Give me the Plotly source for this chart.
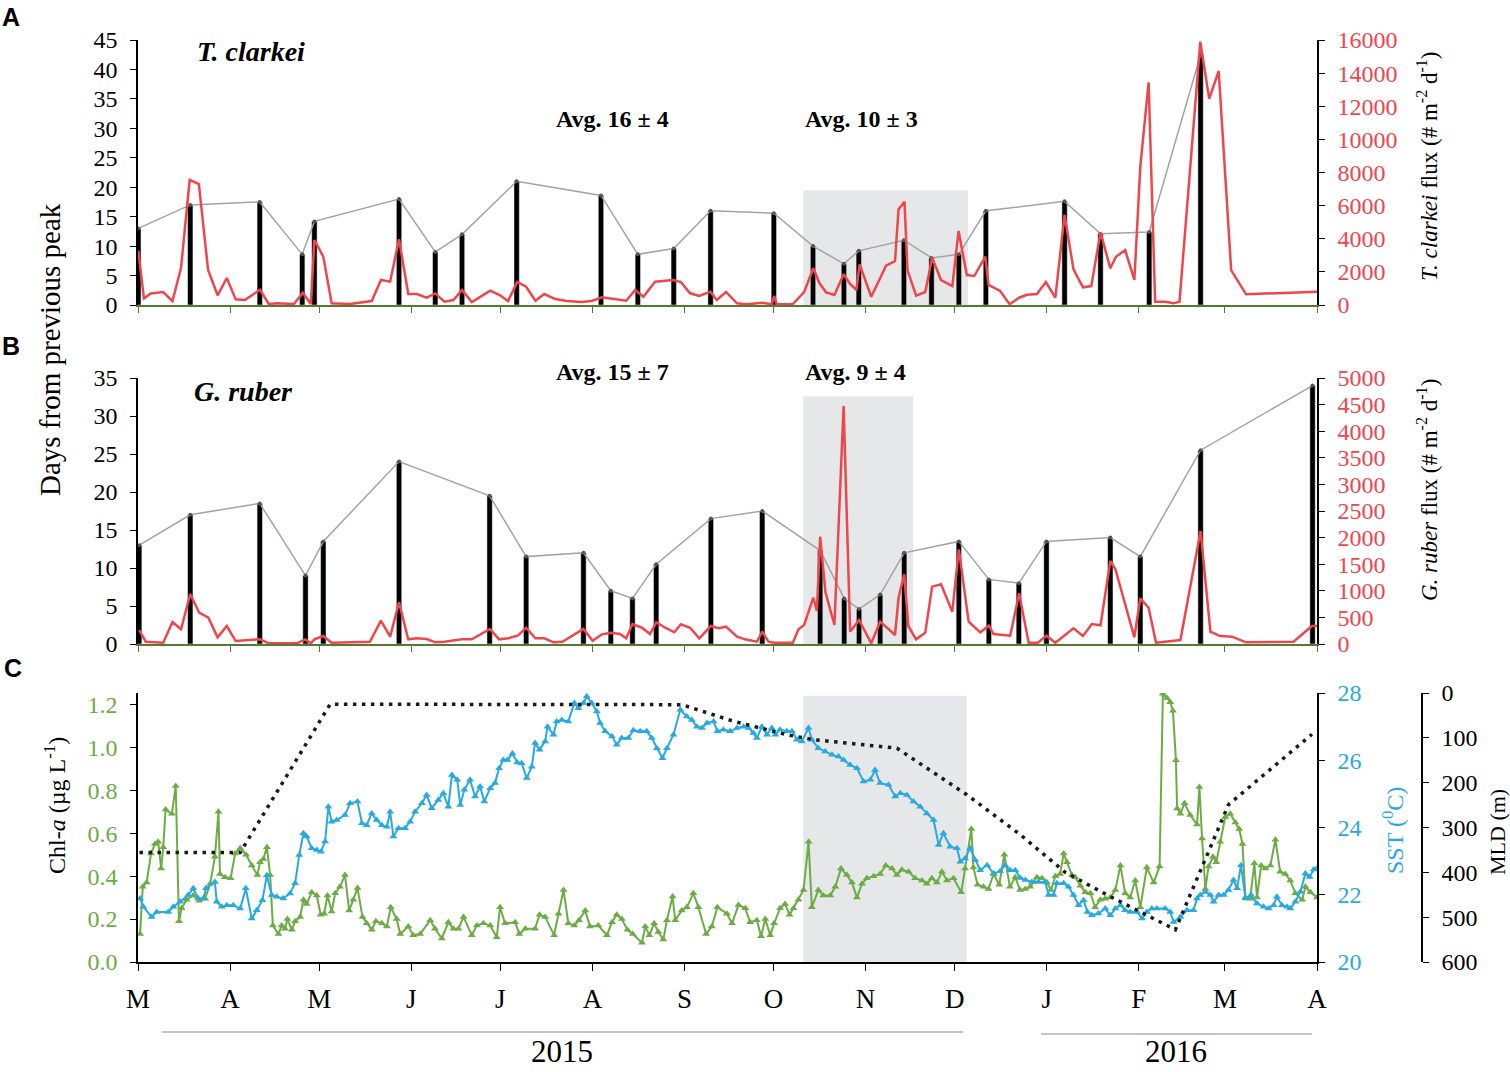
import numpy as np
import pandas as pd
import plotly.graph_objects as go

# ---- data (days counted from 1 March 2015) ----
START = pd.Timestamp("2015-03-01")
END = pd.Timestamp("2016-04-01")
MONTH_LETTERS = ["M", "A", "M", "J", "J", "A", "S", "O", "N", "D", "J", "F", "M", "A"]

# panel A: T. clarkei
TC_PEAK_DAY = [0.1, 17.6, 41.0, 55.3, 59.4, 87.9, 100.1, 109.1, 127.5, 155.9, 168.3, 180.4, 192.8,
               214.1, 227.3, 237.7, 242.7, 257.9, 267.2, 276.4, 285.5, 312.0, 324.1, 340.5, 357.8]
TC_GAP = [13, 17, 17.5, 8.6, 14.2, 18, 9, 12, 21, 18.6, 8.6, 9.6, 16,
          15.6, 10, 7, 9.2, 11, 8, 8.6, 16, 17.6, 12.1, 12.4, 42.5]
TC_FLUX_DAY = [0.1, 2.0, 4.3, 8.5, 11.6, 14.5, 17.4, 20.5, 23.6, 26.8,
               29.9, 32.9, 36.0, 41.1, 44.0, 46.9, 52.5, 55.5, 58.2, 59.4,
               62.4, 65.2, 71.4, 78.7, 81.8, 84.9, 87.9, 91.0, 93.9, 97.2,
               100.1, 103.2, 106.2, 109.1, 112.4, 118.6, 121.9, 124.6, 127.7, 130.7,
               133.8, 136.8, 140.5, 144.4, 149.4, 152.8, 156.2, 164.4, 167.4, 170.2,
               174.1, 180.3, 182.8, 185.9, 189.0, 192.7, 194.9, 198.0, 201.7, 205.0,
               210.1, 213.4, 214.2, 215.1, 220.5, 224.3, 227.4, 229.5, 231.7, 234.5,
               237.6, 239.8, 241.9, 243.0, 246.9, 249.3, 251.9, 254.9, 256.1, 258.1,
               259.1, 262.0, 265.1, 267.4, 270.4, 274.2, 276.3, 279.1, 281.6, 285.3,
               286.4, 290.3, 293.5, 296.7, 299.3, 302.7, 305.7, 308.9, 312.0, 315.0,
               318.2, 321.0, 324.1, 327.4, 329.3, 332.4, 335.5, 337.5, 340.3, 342.5,
               345.9, 348.7, 350.7, 357.7, 360.7, 363.9, 368.1, 373.1, 397.0]
TC_FLUX = [3280, 400, 700, 785, 240, 2250, 7550, 7300, 2110, 585,
           1630, 340, 300, 925, 60, 100, 60, 740, 60, 3925,
           2920, 100, 60, 240, 1510, 1410, 3970, 665, 665, 440,
           700, 200, 300, 905, 180, 865, 585, 240, 1390, 1105,
           260, 665, 360, 240, 180, 240, 465, 260, 905, 500,
           1410, 1510, 1390, 705, 545, 805, 300, 785, 100, 40,
           140, 40, 545, 40, 60, 785, 2215, 1310, 765, 605,
           1855, 1270, 905, 2455, 500, 1410, 2375, 2655, 5780, 6240,
           2110, 565, 785, 2855, 1510, 1145, 4470, 1810, 1750, 2915,
           1210, 850, 50, 440, 620, 665, 1390, 440, 5435, 2155,
           1070, 1145, 4390, 2215, 2915, 3320, 1510, 8350, 13445, 200,
           200, 100, 200, 15900, 12460, 14130, 2110, 645, 805]

# panel B: G. ruber
GR_PEAK_DAY = [0.4, 17.6, 41.0, 56.4, 62.4, 87.9, 118.4, 130.7, 150.0, 159.2, 166.5, 174.5, 192.9, 210.2,
               229.7, 237.8, 242.8, 249.9, 258.0, 276.4, 286.5, 296.6, 305.9, 327.4, 337.5, 357.8, 395.5]
GR_GAP = [13, 17, 18.5, 9, 13.5, 24, 19.5, 11.5, 12, 7, 6, 10.5, 16.5, 17.5,
          12.3, 6, 4.6, 6.5, 12, 13.5, 8.5, 8, 13.5, 14, 11.5, 25.5, 34]
GR_FLUX_DAY = [0.4, 2.6, 8.5, 11.6, 14.5, 17.6, 20.6, 23.7, 26.8, 29.9,
               32.9, 41.1, 44.0, 53.5, 56.3, 58.2, 59.4, 62.4, 65.2, 78.1,
               81.8, 84.9, 87.9, 91.0, 93.9, 97.2, 100.1, 103.2, 109.1, 112.4,
               118.5, 121.6, 124.7, 128.0, 130.7, 133.8, 136.8, 139.9, 142.9, 150.0,
               153.1, 156.2, 159.2, 162.3, 164.4, 166.5, 169.7, 172.4, 174.5, 177.5,
               180.6, 182.8, 185.9, 189.0, 192.9, 195.5, 198.0, 201.7, 204.4, 208.4,
               210.2, 212.3, 214.2, 220.5, 222.4, 224.3, 227.4, 228.6, 229.7, 231.5,
               234.5, 237.6, 239.8, 242.8, 246.9, 249.9, 254.9, 256.1, 258.0, 259.4,
               262.0, 265.1, 267.4, 270.4, 274.2, 276.4, 279.7, 283.6, 286.5, 288.1,
               293.7, 296.7, 299.9, 303.0, 305.9, 308.9, 315.0, 318.2, 321.2, 324.1,
               327.4, 329.1, 335.5, 337.5, 340.3, 342.8, 351.0, 357.8, 361.1, 364.4,
               368.4, 373.1, 389.1, 395.3, 397.0]
GR_FLUX = [263, 43, 25, 414, 276, 940, 588, 494, 126, 338,
           56, 88, 13, 13, 88, 13, 88, 150, 24, 43,
           438, 137, 784, 88, 107, 94, 32, 43, 88, 88,
           282, 88, 107, 160, 306, 107, 107, 32, 43, 282,
           62, 182, 213, 188, 107, 376, 306, 188, 408, 306,
           220, 370, 306, 107, 338, 295, 326, 137, 88, 43,
           232, 43, 24, 24, 276, 357, 870, 620, 2017, 972,
           357, 4474, 232, 451, 13, 420, 169, 871, 1310, 338,
           88, 213, 1078, 1122, 608, 1780, 420, 220, 345, 188,
           157, 953, 24, 24, 157, 24, 295, 150, 376, 351,
           1560, 1410, 126, 859, 682, 24, 75, 2124, 232, 150,
           137, 32, 43, 338, 338]

# panel C: chlorophyll-a, SST, mixed layer depth
CHL_DAY = [0.7, 1.6, 2.9, 4.4, 5.7, 6.8, 7.8, 8.5, 9.3, 11.4,
           12.7, 13.8, 14.7, 16.4, 18.6, 20.6, 22.6, 24.3, 25.9, 27.1,
           27.6, 29.3, 31.2, 32.7, 34.4, 36.4, 38.3, 40.2, 41.1, 42.2,
           43.4, 44.5, 45.4, 47.3, 48.4, 49.5, 50.3, 51.8, 52.9, 54.6,
           55.7, 56.8, 58.5, 60.2, 61.5, 62.7, 63.8, 65.2, 66.4, 68.0,
           69.7, 71.1, 72.5, 73.9, 75.6, 77.0, 78.7, 80.1, 82.1, 83.8,
           85.1, 87.1, 88.3, 91.0, 92.7, 95.0, 98.4, 100.0, 102.3, 104.5,
           106.2, 107.9, 109.6, 112.4, 114.1, 116.3, 118.6, 120.8, 121.9, 123.6,
           127.0, 128.4, 130.4, 133.7, 135.2, 137.1, 140.1, 141.6, 143.3, 144.9,
           146.9, 148.5, 150.6, 152.2, 155.0, 157.9, 159.6, 161.2, 162.9, 164.8,
           166.6, 169.7, 170.8, 172.2, 173.8, 175.2, 176.9, 178.1, 180.0, 180.9,
           183.1, 184.8, 187.0, 188.7, 191.3, 193.2, 195.1, 198.3, 200.0, 202.2,
           204.5, 206.1, 208.4, 209.8, 211.2, 212.9, 214.2, 216.2, 217.9, 219.4,
           220.7, 222.4, 224.1, 225.8, 226.9, 229.1, 230.8, 233.1, 234.8, 236.7,
           238.7, 240.4, 242.1, 243.8, 245.4, 247.7, 249.9, 251.8, 253.9, 255.5,
           257.2, 259.5, 261.7, 264.0, 265.6, 267.3, 269.0, 270.7, 272.4, 274.6,
           277.2, 278.5, 280.6, 281.3, 282.7, 284.7, 286.4, 288.1, 290.0, 291.7,
           293.6, 295.4, 297.0, 298.8, 300.4, 302.7, 304.4, 306.1, 307.4, 308.9,
           310.5, 311.7, 312.8, 314.5, 315.6, 317.3, 319.0, 320.7, 322.3, 324.0,
           325.7, 327.4, 329.1, 330.8, 332.4, 334.1, 335.8, 337.5, 339.7, 342.0,
           344.0, 345.1, 346.5, 347.6, 348.5, 349.5, 349.9, 351.0, 352.4, 354.3,
           356.6, 357.4, 358.3, 359.4, 360.5, 362.0, 363.1, 364.4, 366.1, 367.8,
           369.5, 370.8, 371.9, 372.9, 374.5, 375.9, 376.8, 378.2, 379.6, 381.3,
           383.0, 384.6, 386.3, 388.0, 389.7, 392.0, 393.1, 394.8, 397.0]
CHL = [0.13, 0.35, 0.37, 0.505, 0.55, 0.56, 0.435, 0.535, 0.71, 0.69,
       0.82, 0.19, 0.25, 0.29, 0.31, 0.285, 0.295, 0.365, 0.49, 0.70,
       0.41, 0.395, 0.39, 0.505, 0.53, 0.50, 0.45, 0.405, 0.465, 0.48,
       0.535, 0.405, 0.17, 0.13, 0.17, 0.155, 0.20, 0.15, 0.19, 0.21,
       0.29, 0.27, 0.325, 0.31, 0.22, 0.225, 0.31, 0.235, 0.32, 0.35,
       0.405, 0.24, 0.29, 0.345, 0.21, 0.18, 0.15, 0.19, 0.18, 0.165,
       0.255, 0.20, 0.13, 0.165, 0.125, 0.13, 0.195, 0.155, 0.11, 0.185,
       0.155, 0.155, 0.21, 0.125, 0.17, 0.18, 0.17, 0.115, 0.255, 0.18,
       0.185, 0.13, 0.155, 0.155, 0.22, 0.21, 0.125, 0.225, 0.335, 0.18,
       0.17, 0.195, 0.24, 0.165, 0.17, 0.125, 0.185, 0.22, 0.20, 0.15,
       0.13, 0.09, 0.165, 0.125, 0.18, 0.14, 0.105, 0.195, 0.305, 0.195,
       0.24, 0.255, 0.32, 0.255, 0.13, 0.165, 0.255, 0.225, 0.18, 0.265,
       0.25, 0.185, 0.195, 0.12, 0.20, 0.125, 0.18, 0.25, 0.27, 0.22,
       0.25, 0.29, 0.335, 0.56, 0.255, 0.335, 0.31, 0.31, 0.35, 0.435,
       0.405, 0.37, 0.30, 0.365, 0.39, 0.40, 0.41, 0.45, 0.435, 0.405,
       0.43, 0.42, 0.39, 0.38, 0.365, 0.39, 0.37, 0.42, 0.38, 0.39,
       0.325, 0.435, 0.62, 0.44, 0.36, 0.35, 0.34, 0.41, 0.36, 0.50,
       0.35, 0.395, 0.335, 0.34, 0.35, 0.395, 0.39, 0.37, 0.335, 0.40,
       0.41, 0.505, 0.465, 0.405, 0.395, 0.355, 0.325, 0.32, 0.255, 0.29,
       0.295, 0.30, 0.335, 0.45, 0.32, 0.30, 0.38, 0.255, 0.44, 0.37,
       0.445, 1.25, 1.23, 1.21, 1.17, 0.94, 0.715, 0.69, 0.74, 0.685,
       0.64, 0.815, 0.575, 0.34, 0.445, 0.49, 0.465, 0.56, 0.675, 0.69,
       0.65, 0.62, 0.55, 0.30, 0.295, 0.46, 0.30, 0.45, 0.435, 0.45,
       0.57, 0.42, 0.41, 0.38, 0.32, 0.29, 0.35, 0.325, 0.30]

SST_DAY = [0.7, 1.8, 4.6, 6.3, 10.2, 11.9, 14.2, 16.9, 18.6, 20.3,
           22.0, 22.9, 25.9, 26.5, 28.2, 29.9, 32.1, 34.4, 36.3, 38.3,
           40.0, 41.9, 43.4, 45.0, 46.7, 48.9, 51.2, 52.9, 54.3, 55.7,
           56.8, 58.5, 60.2, 61.6, 63.0, 64.1, 65.2, 66.9, 69.7, 71.4,
           73.9, 75.4, 77.0, 78.7, 80.4, 82.1, 83.8, 84.9, 86.0, 87.7,
           89.9, 91.6, 93.3, 95.6, 97.2, 98.9, 101.1, 102.8, 104.5, 105.7,
           107.5, 108.5, 109.9, 111.8, 113.5, 115.2, 116.6, 118.6, 120.2, 121.6,
           123.0, 124.4, 126.1, 127.7, 129.2, 130.9, 132.6, 133.7, 135.2, 137.1,
           137.9, 139.9, 141.0, 142.7, 144.9, 146.9, 148.3, 150.0, 151.1, 152.8,
           154.5, 155.6, 157.3, 159.6, 161.2, 162.9, 165.1, 166.8, 169.1, 171.3,
           173.0, 174.7, 176.6, 178.1, 180.3, 182.6, 184.8, 186.5, 188.2, 189.9,
           191.6, 193.8, 195.1, 197.1, 199.4, 201.7, 203.9, 205.6, 207.2, 208.4,
           210.1, 211.8, 213.4, 214.6, 216.2, 218.5, 220.2, 221.9, 223.5, 225.8,
           226.9, 229.1, 231.4, 233.7, 235.9, 237.6, 239.8, 242.1, 244.3, 246.6,
           248.2, 249.9, 252.7, 255.0, 256.7, 258.9, 261.1, 263.4, 265.6, 267.9,
           269.6, 271.2, 273.5, 275.8, 276.9, 278.5, 280.2, 281.9, 283.6, 285.9,
           288.1, 290.3, 292.0, 293.7, 295.4, 297.1, 298.8, 301.0, 303.2, 305.5,
           306.6, 308.3, 309.4, 311.7, 313.3, 315.0, 316.7, 318.4, 319.7, 321.2,
           323.4, 325.7, 327.4, 329.1, 330.8, 332.4, 334.1, 336.4, 338.1, 339.7,
           341.4, 343.1, 345.9, 347.6, 348.7, 351.0, 353.2, 355.4, 356.6, 357.7,
           359.4, 361.1, 362.2, 363.9, 365.6, 367.2, 368.9, 370.1, 371.4, 372.9,
           374.8, 376.8, 379.0, 380.7, 382.4, 383.5, 385.2, 386.9, 388.0, 389.7,
           391.4, 393.1, 394.5, 395.9, 397.0]
SST = [21.89, 21.64, 21.34, 21.49, 21.49, 21.64, 21.79, 21.99, 22.19, 21.89,
       21.89, 22.19, 22.38, 21.79, 21.64, 21.69, 21.69, 21.59, 22.19, 21.29,
       21.54, 21.84, 22.58, 21.99, 21.94, 21.89, 22.04, 22.34, 23.18, 23.83,
       23.73, 23.38, 23.33, 23.28, 23.58, 24.62, 24.17, 24.22, 24.37, 24.72,
       24.77, 24.13, 24.07, 24.42, 24.22, 24.07, 24.02, 24.47, 23.73, 23.98,
       23.98, 24.17, 24.47, 24.72, 24.97, 24.57, 24.82, 25.02, 24.62, 25.56,
       25.42, 24.67, 25.12, 25.42, 24.92, 25.22, 24.77, 25.17, 25.32, 25.76,
       26.01, 26.01, 26.20, 25.93, 25.91, 25.47, 25.81, 26.51, 26.31, 26.56,
       27.00, 26.76, 27.15, 27.20, 27.15, 27.70, 27.55, 27.70, 27.90, 27.70,
       27.45, 27.11, 26.86, 26.71, 26.46, 26.66, 26.66, 26.89, 26.86, 26.86,
       26.66, 26.36, 26.06, 26.36, 26.76, 27.50, 27.30, 27.20, 27.00, 26.96,
       27.11, 27.15, 26.86, 26.91, 26.86, 26.96, 27.00, 26.96, 26.81, 26.66,
       27.00, 26.76, 26.96, 26.76, 26.91, 26.86, 26.86, 26.61, 26.56, 26.96,
       26.61, 26.36, 26.26, 26.16, 26.11, 26.01, 25.86, 25.76, 25.37, 25.42,
       25.71, 25.32, 25.27, 24.92, 25.02, 24.97, 24.77, 24.62, 24.42, 24.22,
       23.48, 23.83, 23.43, 23.38, 22.98, 23.08, 23.38, 23.03, 22.73, 22.88,
       22.63, 22.70, 22.88, 22.73, 22.73, 22.50, 22.44, 22.38, 22.38, 22.38,
       21.99, 21.99, 22.34, 22.34, 22.24, 21.99, 21.69, 21.84, 21.49, 21.39,
       21.44, 21.59, 21.39, 21.59, 21.69, 21.54, 21.49, 21.49, 21.29, 21.49,
       21.59, 21.59, 21.59, 21.49, 21.19, 21.34, 21.54, 21.54, 21.89, 21.99,
       22.09, 21.99, 21.79, 21.99, 21.99, 22.14, 22.44, 22.19, 22.88, 21.89,
       21.99, 21.74, 21.64, 21.59, 21.69, 21.94, 21.69, 21.64, 21.59, 21.79,
       22.09, 22.63, 22.53, 22.75, 22.78]

MLD_DAY = [0.5, 34.4, 64.7, 183.1, 200.5, 218.5, 227.4, 245.4, 255.5, 279.1, 297.1, 312.2,
           327.4, 349.3, 367.2, 395.3]
MLD = [356, 356, 25, 26, 63, 93, 104, 115, 123, 227, 316, 400, 454, 528, 249, 92]

# grey boxes (start, end, top on left axis)
SHADE_A = ("2015-10-11", "2015-12-05 12:00", 19.5)
SHADE_B = ("2015-10-11", "2015-11-17", 32.6)
SHADE_C = ("2015-10-11", "2015-12-05", 1.24)

RED = "#EF464E"
GREEN = "#6DAB45"
BLUE = "#28A9E0"
AXGREEN = "#557935"
SERIF = "Liberation Serif"

W, H = 1510, 1072
ML, MR, MT, MB = 138, 60, 40, 110
PW, PH = W - ML - MR, H - MT - MB


def px(x):
    return (x - ML) / PW


def py(y):
    return (H - MB - y) / PH


def to_dates(days):
    return START + pd.to_timedelta(np.asarray(days), unit="D")


XD = [0, px(1317)]
MONTHS = pd.date_range(START, END, freq="MS")
BAR_W = 1.8 * 86400000

fig = go.Figure()

# panel A
fig.add_trace(go.Bar(x=to_dates(TC_PEAK_DAY), y=TC_GAP, width=BAR_W, marker_color="black",
                     xaxis="x", yaxis="y"))
fig.add_trace(go.Scatter(x=to_dates(TC_PEAK_DAY), y=TC_GAP, mode="lines+markers",
                         line=dict(color="#a3a3a3", width=1.5), marker=dict(size=4, color="#555"),
                         xaxis="x", yaxis="y"))
fig.add_trace(go.Scatter(x=to_dates(TC_FLUX_DAY), y=TC_FLUX, mode="lines",
                         line=dict(color=RED, width=2.5), xaxis="x", yaxis="y2"))

# panel B
fig.add_trace(go.Bar(x=to_dates(GR_PEAK_DAY), y=GR_GAP, width=BAR_W, marker_color="black",
                     xaxis="x2", yaxis="y3"))
fig.add_trace(go.Scatter(x=to_dates(GR_PEAK_DAY), y=GR_GAP, mode="lines+markers",
                         line=dict(color="#a3a3a3", width=1.5), marker=dict(size=4, color="#555"),
                         xaxis="x2", yaxis="y3"))
fig.add_trace(go.Scatter(x=to_dates(GR_FLUX_DAY), y=GR_FLUX, mode="lines",
                         line=dict(color=RED, width=2.5), xaxis="x2", yaxis="y4"))

# panel C
fig.add_trace(go.Scatter(x=to_dates(CHL_DAY), y=CHL, mode="lines+markers",
                         line=dict(color=GREEN, width=2),
                         marker=dict(symbol="triangle-up", size=7, color=GREEN),
                         xaxis="x3", yaxis="y5"))
fig.add_trace(go.Scatter(x=to_dates(SST_DAY), y=SST, mode="lines+markers",
                         line=dict(color=BLUE, width=2),
                         marker=dict(symbol="triangle-up", size=7, color=BLUE),
                         xaxis="x3", yaxis="y6"))
fig.add_trace(go.Scatter(x=to_dates(MLD_DAY), y=MLD, mode="lines",
                         line=dict(color="#1a1a1a", width=3.5, dash="3.5px,5.5px"),
                         xaxis="x3", yaxis="y7"))

tick = dict(size=24, family=SERIF, color="black")
xcommon = dict(domain=XD, type="date", range=[START, END], tickvals=MONTHS, showgrid=False,
               zeroline=False, ticks="outside", showline=True, linewidth=1.5)
ycommon = dict(showgrid=False, zeroline=False, ticks="outside", ticklen=6, showline=True,
               linecolor="black", linewidth=1.5, tickcolor="black", tickfont=tick,
               ticklabelstandoff=8)

fig.update_layout(
    width=W, height=H, margin=dict(l=ML, r=MR, t=MT, b=MB),
    plot_bgcolor="white", paper_bgcolor="white", showlegend=False,
    font=dict(family=SERIF, color="black"),
    xaxis=dict(xcommon, anchor="y", showticklabels=False, ticklen=6,
               linecolor=AXGREEN, tickcolor=AXGREEN),
    xaxis2=dict(xcommon, anchor="y3", showticklabels=False, ticklen=6,
                linecolor=AXGREEN, tickcolor=AXGREEN),
    xaxis3=dict(xcommon, anchor="y5", ticktext=MONTH_LETTERS, ticklen=7,
                linecolor="black", tickcolor="black", ticklabelstandoff=5,
                tickfont=dict(size=27, family=SERIF, color="black")),
    yaxis=dict(ycommon, domain=[py(305), py(40)], anchor="x", range=[0, 45], dtick=5),
    yaxis2=dict(ycommon, overlaying="y", side="right", anchor="x", range=[0, 16000], dtick=2000,
                tickformat="d", tickfont=dict(tick, color=RED)),
    yaxis3=dict(ycommon, domain=[py(644), py(378)], anchor="x2", range=[0, 35], dtick=5),
    yaxis4=dict(ycommon, overlaying="y3", side="right", anchor="x2", range=[0, 5000], dtick=500,
                tickformat="d", tickfont=dict(tick, color=RED)),
    yaxis5=dict(ycommon, domain=[0, py(693)], anchor="x3", range=[0, 1.253], dtick=0.2,
                tickformat=".1f", tickfont=dict(tick, color=GREEN)),
    yaxis6=dict(ycommon, overlaying="y5", side="right", anchor="x3", range=[20, 28], dtick=2,
                tickfont=dict(tick, color=BLUE)),
    yaxis7=dict(ycommon, overlaying="y5", side="right", anchor="free", position=px(1422),
                range=[600, 0], dtick=100),
)

# grey boxes
for (x0, x1, top), xr, yr in [(SHADE_A, "x", "y"), (SHADE_B, "x2", "y3"), (SHADE_C, "x3", "y5")]:
    fig.add_shape(type="rect", xref=xr, yref=yr, x0=x0, x1=x1, y0=0, y1=top,
                  fillcolor="#e6e7e8", line_width=0, layer="below")

# year brackets
fig.add_shape(type="line", xref="paper", yref="paper", x0=px(162), x1=px(963), y0=py(1032), y1=py(1032),
              line=dict(color="#8a8a8a", width=1.2))
fig.add_shape(type="line", xref="paper", yref="paper", x0=px(1041), x1=px(1312), y0=py(1034), y1=py(1034),
              line=dict(color="#8a8a8a", width=1.2))


def note(text, x, y, size, angle=0, color="black", family=SERIF, yanchor="middle"):
    fig.add_annotation(text=text, x=px(x), y=py(y), xref="paper", yref="paper", showarrow=False,
                       xanchor="center", yanchor=yanchor, textangle=angle,
                       font=dict(size=size, color=color, family=family))


note("<b>A</b>", 11, 17, 25, family="Liberation Sans")
note("<b>B</b>", 11, 346, 25, family="Liberation Sans")
note("<b>C</b>", 13, 668, 25, family="Liberation Sans")
note("<b><i>T. clarkei</i></b>", 251, 52, 28)
note("<b><i>G. ruber</i></b>", 243, 391, 28)
note("<b>Avg. 16 ± 4</b>", 612, 119, 24)
note("<b>Avg. 10 ± 3</b>", 861, 119, 24)
note("<b>Avg. 15 ± 7</b>", 612, 372, 24)
note("<b>Avg. 9 ± 4</b>", 855, 372, 24)
note("Days from previous peak", 50, 350, 29, angle=-90)
note("<i>T. clarkei</i> flux (# m<sup>-2</sup> d<sup>-1</sup>)", 1427, 166, 23, angle=-90)
note("<i>G. ruber</i> flux (# m<sup>-2</sup> d<sup>-1</sup>)", 1427, 490, 23, angle=-90)
note("Chl-<i>a</i> (µg L<sup>-1</sup>)", 55, 806, 24, angle=-90)
note("SST (<sup>0</sup>C)", 1393, 831, 24, angle=-90, color=BLUE)
note("MLD (m)", 1497, 832, 22, angle=-90)
note("2015", 562, 1071, 31, yanchor="bottom")
note("2016", 1176, 1071, 31, yanchor="bottom")

# the page's default 8px body margin would shift the whole figure
fig.write_html("out.html", config={"displayModeBar": False},
               post_script="document.body.style.margin='0';")
